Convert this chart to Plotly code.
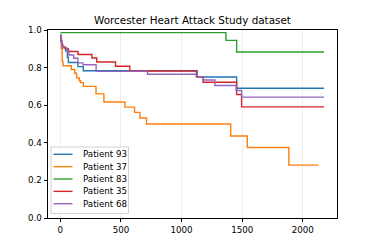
import plotly.graph_objects as go

# ---- data ----
names = ["Patient 93", "Patient 37", "Patient 83", "Patient 35", "Patient 68"]

t_93 = [0, 5, 10, 16, 30, 44, 58, 66, 145, 189, 1128, 1454, 2175]
s_93 = [0.97, 0.95, 0.93, 0.91, 0.905, 0.89, 0.855, 0.827, 0.805, 0.783, 0.75, 0.69, 0.69]

t_37 = [0, 8, 15, 22, 90, 118, 134, 156, 167, 189, 294, 359, 532, 612, 656, 711, 1405, 1542, 1885, 2129]
s_37 = [0.96, 0.90, 0.833, 0.81, 0.79, 0.77, 0.745, 0.73, 0.72, 0.70, 0.66, 0.617, 0.59, 0.562, 0.532, 0.50, 0.436, 0.375, 0.281, 0.281]

t_83 = [0, 1366, 1454, 2175]
s_83 = [0.986, 0.945, 0.883, 0.883]

t_35 = [0, 5, 12, 20, 40, 66, 145, 260, 300, 455, 573, 1122, 1177, 1454, 1495, 2175]
s_35 = [0.97, 0.94, 0.92, 0.91, 0.90, 0.886, 0.87, 0.851, 0.83, 0.807, 0.782, 0.752, 0.722, 0.657, 0.591, 0.591]

t_68 = [0, 5, 12, 20, 55, 70, 110, 145, 186, 295, 719, 1122, 1180, 1275, 1450, 1495, 2175]
s_68 = [0.975, 0.94, 0.92, 0.905, 0.89, 0.867, 0.85, 0.825, 0.815, 0.78, 0.765, 0.75, 0.734, 0.705, 0.678, 0.643, 0.643]

x_ticks = [0, 500, 1000, 1500, 2000]
y_ticks = [0.0, 0.2, 0.4, 0.6, 0.8, 1.0]
y_tick_labels = ["0.0", "0.2", "0.4", "0.6", "0.8", "1.0"]
title = "Worcester Heart Attack Study dataset"

colors = ["#1f77b4", "#ff7f0e", "#2ca02c", "#d62728", "#9467bd"]
series = [(t_93, s_93), (t_37, s_37), (t_83, s_83), (t_35, s_35), (t_68, s_68)]

W, H = 374, 249
L, R, T, B = 48, 37, 30, 31
FONT = "DejaVu Sans"

fig = go.Figure()
for name, (t, s), c in zip(names, series, colors):
    fig.add_trace(go.Scatter(x=t, y=s, mode="lines", name=name,
                             line=dict(color=c, width=1.4, shape="hv"),
                             showlegend=False))

# manual legend (compact, matplotlib-like) in pixel -> paper coords
pw, ph = W - L - R, H - T - B
def px(x):
    return (x - L) / pw
def py(y):
    return (H - B - y) / ph

shapes = [dict(type="rect", xref="paper", yref="paper",
               x0=px(51), x1=px(128.5), y0=py(213.5), y1=py(147),
               line=dict(color="#d0d0d0", width=1), fillcolor="rgba(255,255,255,0.85)",
               layer="above")]
annotations = []
row0, dy = 154.3, 12.35
for i, (name, c) in enumerate(zip(names, colors)):
    yy = row0 + i * dy
    shapes.append(dict(type="line", xref="paper", yref="paper",
                       x0=px(53.5), x1=px(72.5), y0=py(yy), y1=py(yy),
                       line=dict(color=c, width=1.4), layer="above"))
    annotations.append(dict(xref="paper", yref="paper", x=px(81), y=py(yy),
                            text=name, showarrow=False, xanchor="left", yanchor="middle",
                            font=dict(family=FONT, size=8.7, color="black")))

fig.update_layout(
    width=W, height=H,
    margin=dict(l=L, r=R, t=T, b=B),
    paper_bgcolor="white", plot_bgcolor="white",
    title=dict(text=title, x=(L + pw / 2) / W, xanchor="center",
               y=(H - 20.7) / H, yanchor="middle", yref="container",
               font=dict(family=FONT, size=10.4, color="black")),
    font=dict(family=FONT, size=8.7, color="black"),
    shapes=shapes, annotations=annotations,
    showlegend=False,
)
fig.update_xaxes(range=[-102, 2282], tickvals=x_ticks, showgrid=True,
                 gridcolor="#efefef", gridwidth=1, zeroline=False,
                 showline=True, mirror=True, linecolor="black", linewidth=0.9,
                 ticks="outside", ticklen=3.5, tickcolor="black", tickwidth=0.9,
                 tickfont=dict(family=FONT, size=8.7, color="black"))
fig.update_yaxes(range=[0, 1], tickvals=y_ticks, ticktext=y_tick_labels, showgrid=False,
                 zeroline=False, showline=True, mirror=True, linecolor="black", linewidth=0.9,
                 ticks="outside", ticklen=3.5, tickcolor="black", tickwidth=0.9,
                 tickfont=dict(family=FONT, size=8.7, color="black"))

fig.write_html("out.html", config={"displayModeBar": False},
               post_script="document.body.style.margin='0';")
